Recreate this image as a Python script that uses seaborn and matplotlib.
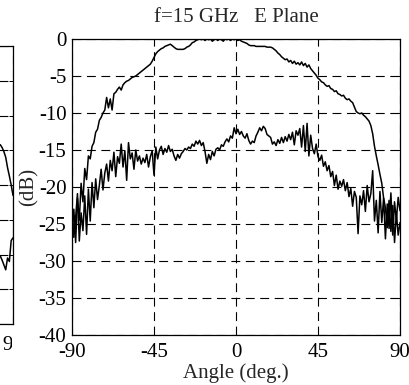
import numpy as np
import pandas as pd
import matplotlib
matplotlib.use("Agg")
import matplotlib.pyplot as plt
from matplotlib.transforms import Bbox, TransformedBbox
import seaborn as sns

# Measured radiation pattern, 1 degree steps
angles = np.arange(-90, 91, 1)

copol_db = [
    -26.0, -23.0, -27.5, -21.5, -24.5, -19.5, -22.0, -17.5, -19.0, -15.8,
    -16.2, -14.5, -14.0, -12.6, -12.2, -11.0, -10.6, -10.0, -9.6, -7.9,
    -9.3, -8.1, -9.6, -7.4, -7.2, -6.8, -6.5, -6.9, -6.2, -5.9,
    -5.7, -5.6, -5.4, -5.2, -5.1, -5.0, -4.8, -4.6, -4.4, -4.2,
    -4.0, -3.8, -3.6, -3.4, -3.0, -2.5, -2.0, -1.7, -1.5, -1.3,
    -1.2, -1.0, -0.9, -0.8, -0.7, -0.9, -1.1, -1.3, -1.4, -1.4,
    -1.4, -1.4, -1.3, -1.1, -1.0, -0.8, -0.5, -0.4, -0.2, -0.1,
    0.0, -0.1, 0.0, -0.2, 0.0, -0.1, 0.0, -0.3, -0.1, 0.0,
    -0.2, 0.0, -0.1, -0.3, 0.0, -0.1, 0.0, -0.2, 0.0, -0.1,
    0.0, -0.2, -0.1, -0.3, -0.4, -0.5, -0.6, -0.8, -0.9, -0.9,
    -0.9, -1.0, -1.0, -1.0, -1.0, -1.0, -1.0, -1.1, -1.1, -1.1,
    -1.2, -1.4, -1.6, -1.9, -2.1, -2.4, -2.6, -2.8, -2.7, -3.1,
    -2.9, -3.3, -3.0, -3.4, -3.2, -3.5, -3.1, -3.6, -3.3, -3.8,
    -3.5, -4.0, -4.3, -4.6, -4.9, -5.3, -5.5, -5.8, -5.9, -6.2,
    -6.4, -6.3, -6.7, -6.8, -7.1, -7.0, -7.4, -7.5, -7.7, -7.6,
    -8.0, -8.2, -8.1, -8.4, -8.6, -9.2, -9.8, -10.0, -10.1, -10.0,
    -10.3, -10.5, -10.8, -11.1, -11.7, -12.8, -14.5, -15.8, -17.0, -18.3,
    -19.5, -21.5, -22.8, -25.5, -21.8, -26.0, -22.5, -27.5, -23.5, -26.5, -24.8,
]

xpol_db = [
    -22.7, -26.8, -24.1, -20.9, -27.3, -23.5, -25.9, -21.2, -26.4, -20.3,
    -24.6, -19.4, -22.8, -18.9, -21.7, -19.8, -17.6, -20.4, -18.1, -16.9,
    -19.2, -16.4, -17.8, -15.3, -18.6, -15.9, -16.8, -14.2, -17.3, -15.1,
    -19.1, -14.0, -16.2, -15.4, -17.6, -15.0, -16.5, -15.8, -16.9, -16.1,
    -16.7, -15.6, -17.3, -15.9, -15.1, -18.4, -14.6, -16.2, -15.0, -14.5,
    -15.6, -14.8, -15.3, -14.4, -15.2, -14.9, -15.8, -16.4, -15.6, -16.1,
    -15.5, -15.2, -14.8, -15.0, -14.6, -14.8, -14.2, -14.5, -13.8, -14.2,
    -13.7, -14.4, -14.0, -15.2, -16.8, -15.6, -16.3, -15.2, -15.8, -14.9,
    -14.7, -15.0, -14.3, -14.5, -13.9, -13.5, -13.9, -13.1, -13.4, -12.0,
    -12.8, -12.2, -12.9, -12.5, -13.1, -13.4, -12.8, -13.7, -14.2, -13.8,
    -14.0, -13.1, -12.6, -12.0, -12.4, -11.8, -12.1, -12.9, -13.1, -13.3,
    -14.2, -13.9, -14.4, -13.6, -14.1, -13.3, -14.0, -13.2, -13.8, -12.9,
    -13.6, -12.6, -14.3, -12.4, -13.0, -12.1, -14.6, -11.7, -15.2, -11.4,
    -15.8, -13.0, -14.8, -15.5, -14.2, -15.9, -16.4, -15.7, -17.2, -16.6,
    -17.8, -17.1, -18.6, -17.9, -19.8, -18.4, -20.3, -19.2, -19.9, -19.0,
    -20.5, -19.4, -21.3, -20.2, -22.6, -20.6, -21.4, -26.3, -21.2, -22.4,
    -20.5, -23.3, -19.8, -22.0, -20.9, -17.8, -24.6, -21.8, -26.2, -20.6,
    -24.8, -21.5, -27.0, -22.3, -25.6, -20.8, -26.5, -22.0, -24.5, -21.4, -23.2,
]

# Neighbouring panel (only its right edge falls inside the figure)
left_angles = [83, 84, 85, 86, 87, 88, 89, 90]
left_copol_db = [-14.2, -14.6, -15.2, -16.0, -17.5, -18.7, -20.0, -21.5]
left_xpol_db = [-30.2, -30.8, -31.5, -32.2, -30.5, -31.0, -28.0, -27.6]

x_ticks = [-90, -45, 0, 45, 90]
y_ticks = list(range(-40, 1, 5))

sns.set_style("white")
plt.rcParams["font.family"] = ["Liberation Serif", "DejaVu Serif"]
plt.rcParams["axes.unicode_minus"] = False

FS = 15
W, H = 410, 385
fig = plt.figure(figsize=(W / 100, H / 100), dpi=100)


def axes_px(left, top, right, bottom):
    return fig.add_axes([left / W, 1 - bottom / H, (right - left) / W, (bottom - top) / H])


def style_axes(a, xpad):
    a.set_xlim(-90, 90)
    a.set_ylim(-40, 0)
    a.set_xticks(x_ticks)
    a.set_yticks(y_ticks)
    a.grid(True, color="black", linestyle=(0, (8, 5)), linewidth=0.8)
    a.tick_params(axis="both", which="both", direction="in", length=3, width=0.7,
                  bottom=True, left=True, top=True, right=True,
                  labelsize=FS, colors="black")
    a.tick_params(axis="x", pad=xpad)
    a.tick_params(axis="y", pad=4)
    for sp in a.spines.values():
        sp.set_color("black")
        sp.set_linewidth(0.9)
    a.set_xlabel("")
    a.set_ylabel("")


ax_left = axes_px(-315, 46, 13, 324)
ax = axes_px(72, 39, 400, 335)

df = pd.DataFrame({"angle": angles, "copol": copol_db, "xpol": xpol_db})
sns.lineplot(data=df, x="angle", y="copol", ax=ax, color="black", lw=1.1,
             estimator=None, sort=False)
sns.lineplot(data=df, x="angle", y="xpol", ax=ax, color="black", lw=1.1,
             estimator=None, sort=False)

dfl = pd.DataFrame({"angle": left_angles, "copol": left_copol_db, "xpol": left_xpol_db})
sns.lineplot(data=dfl, x="angle", y="copol", ax=ax_left, color="black", lw=1.1,
             estimator=None, sort=False)
sns.lineplot(data=dfl, x="angle", y="xpol", ax=ax_left, color="black", lw=1.1,
             estimator=None, sort=False)

style_axes(ax, xpad=6)
style_axes(ax_left, xpad=9)

ax.set_title("f=15 GHz   E Plane", fontsize=FS, pad=12)
ax.set_xlabel("Angle (deg.)", fontsize=FS, labelpad=1)
ax.set_ylabel("(dB)", fontsize=FS, labelpad=0)

# The neighbouring panel's tick labels are cut at the figure edge
clip = TransformedBbox(Bbox([[0, 0], [12 / W, 1]]), fig.transFigure)
for lab in ax_left.get_xticklabels() + ax_left.get_yticklabels():
    lab.set_clip_on(True)
    lab.set_clip_box(clip)

fig.savefig("out.png", dpi=100)
